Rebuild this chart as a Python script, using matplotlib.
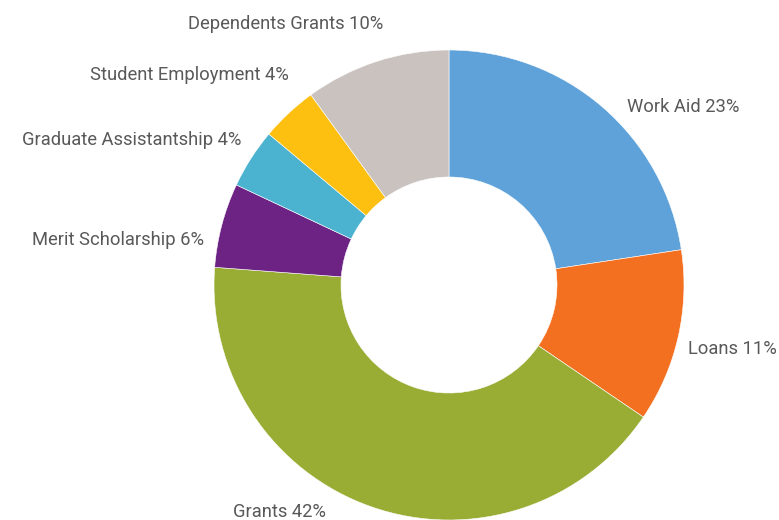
import matplotlib
matplotlib.use("Agg")
import matplotlib.pyplot as plt

categories = ["Work Aid", "Loans", "Grants", "Merit Scholarship",
              "Graduate Assistantship", "Student Employment", "Dependents Grants"]
shares = [22.6, 11.9, 41.7, 5.8, 4.1, 3.9, 10.0]
pct_labels = ["23%", "11%", "42%", "6%", "4%", "4%", "10%"]
colors = ["#5FA2D9", "#F37021", "#99AD34", "#6C2383", "#4BB2CF", "#FDC010", "#C9C2BF"]

# label anchors in figure pixels (x, y from top) with horizontal alignment
label_pos = [(627, 107, "left"), (777, 349, "right"), (233, 512, "left"),
             (204, 240, "right"), (241, 140, "right"), (289, 75, "right"),
             (383, 24, "right")]

W, H = 779, 520
fig = plt.figure(figsize=(W / 100, H / 100), dpi=100)
cx, cy, r = 449, 285, 235
ax = fig.add_axes([(cx - r) / W, (H - cy - r) / H, 2 * r / W, 2 * r / H])
ax.pie(shares, colors=colors, startangle=90, counterclock=False, radius=1,
       wedgeprops=dict(width=1 - 108 / 235, edgecolor="white", linewidth=0.4))
ax.set_xlim(-1, 1)
ax.set_ylim(-1, 1)
ax.set_aspect("equal")
ax.axis("off")

for name, p, (x, y, ha) in zip(categories, pct_labels, label_pos):
    fig.text(x / W, 1 - y / H, f"{name} {p}", ha=ha, va="center",
             color="#595959", fontsize=13.2,
             family=["Roboto", "DejaVu Sans"])

fig.savefig("out.png", dpi=100)
